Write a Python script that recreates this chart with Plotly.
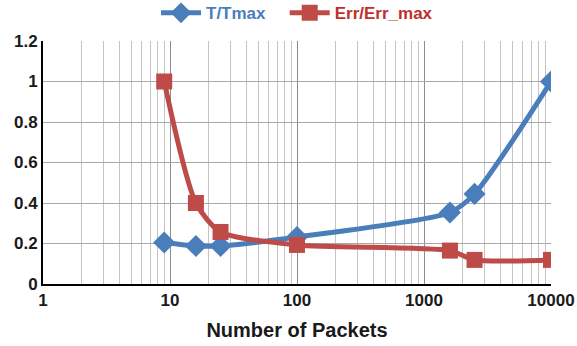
import plotly.graph_objects as go

packets = [9, 16, 25, 100, 1600, 2500, 10000]
t_ratio = [0.205, 0.188, 0.188, 0.232, 0.353, 0.445, 1.0]
err_ratio = [1.0, 0.40, 0.257, 0.193, 0.165, 0.119, 0.119]
x_ticks = [1, 10, 100, 1000, 10000]
x_labels = ["1", "10", "100", "1000", "10000"]
x_minor = [m * d for d in [1, 10, 100, 1000] for m in range(2, 10)]
y_ticks = [0, 0.2, 0.4, 0.6, 0.8, 1, 1.2]
y_labels = ["0", "0.2", "0.4", "0.6", "0.8", "1", "1.2"]

BLUE = "#4a7ebb"
RED = "#be4b48"
FONT = "Liberation Sans, Arial, sans-serif"

fig = go.Figure()
fig.add_trace(go.Scatter(
    x=packets, y=t_ratio, mode="lines+markers",
    name="<b><span style='color:#4a7ebb'>T/Tmax</span></b>   ",
    line=dict(color=BLUE, width=5, shape="spline", smoothing=0.7),
    marker=dict(symbol="diamond", size=17, color=BLUE),
))
fig.add_trace(go.Scatter(
    x=packets, y=err_ratio, mode="lines+markers",
    name="<b><span style='color:#c0302b'>Err/Err_max</span></b>",
    line=dict(color=RED, width=5, shape="spline", smoothing=0.7),
    marker=dict(symbol="square", size=16, color=RED),
))

fig.update_layout(
    width=577, height=346,
    margin=dict(l=43, r=26, t=41, b=62, autoexpand=False),
    paper_bgcolor="white", plot_bgcolor="white",
    font=dict(family=FONT, size=17, color="#1a1a1a"),
    showlegend=True,
    legend=dict(orientation="h", x=0.5, xanchor="center", y=1.04, yanchor="bottom",
                font=dict(size=17, family=FONT), itemwidth=40,
                bgcolor="rgba(0,0,0,0)", tracegroupgap=0),
    xaxis=dict(
        type="log", range=[0, 4],
        tickvals=x_ticks, ticktext=[f"<b>{t}</b>" for t in x_labels],
        showgrid=True, gridcolor="#8e8e8e", gridwidth=1.2,
        minor=dict(tickvals=x_minor, showgrid=True, gridcolor="#c4c4c4", gridwidth=1, ticks=""),
        showline=True, linecolor="black", linewidth=2,
        ticks="", ticklen=0, zeroline=False,
        tickfont=dict(size=17, family=FONT, color="#1a1a1a"),
        title=dict(text="<b>Number of Packets</b>", font=dict(size=20, family=FONT, color="#1a1a1a"), standoff=14),
    ),
    yaxis=dict(
        range=[0, 1.2],
        tickvals=y_ticks, ticktext=[f"<b>{t}</b>" for t in y_labels],
        showgrid=True, gridcolor="#a8a8a8", gridwidth=1.2,
        showline=True, linecolor="black", linewidth=2,
        ticks="", zeroline=False,
        tickfont=dict(size=17, family=FONT, color="#1a1a1a"),
    ),
)

fig.write_html("out.html")
